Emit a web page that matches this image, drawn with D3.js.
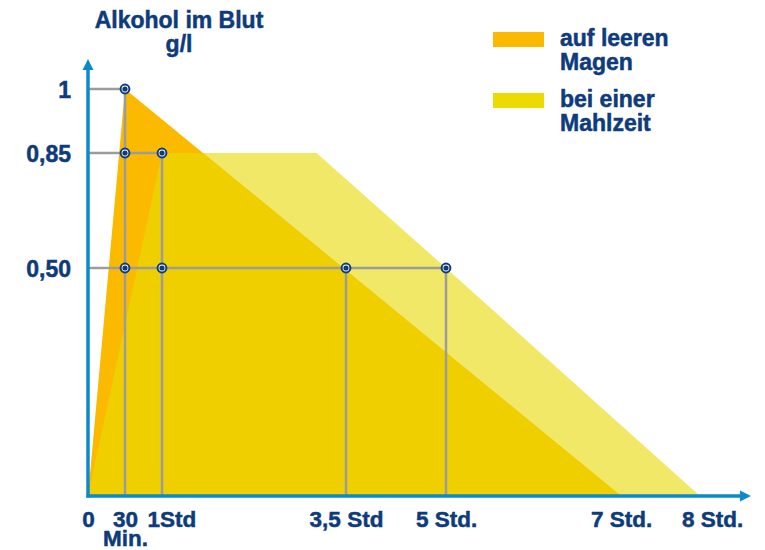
<!DOCTYPE html>
<html>
<head>
<meta charset="utf-8">
<script src="https://cdn.jsdelivr.net/npm/d3@7/dist/d3.min.js"></script>
<style>
  body { margin: 0; background: #fff; }
  text { font-family: "Liberation Sans", Arial, sans-serif; font-weight: bold; fill: #0d3b7b;
         stroke: #0d3b7b; stroke-width: 0.5px; }
</style>
</head>
<body>
<script>
// hours / g/l
var xTicks = [0, 0.5, 1, 3.5, 5, 7, 8]
var xTickLabels = ["0", "30", "1Std", "3,5 Std", "5 Std.", "7 Std.", "8 Std."]
var yTicks = [1, 0.85, 0.5]
var yTickLabels = ["1", "0,85", "0,50"]

// auf leeren Magen
var emptyHours = [0, 0.5, 7]
var emptyLevel = [0, 1, 0]
// bei einer Mahlzeit
var mealHours = [0, 1, 3.1, 5, 8]
var mealLevel = [0, 0.85, 0.85, 0.5, 0]

// marked points and their guide lines
var dotHours = [0.5, 0.5, 1, 0.5, 1, 3.5, 5]
var dotLevel = [1, 0.85, 0.85, 0.5, 0.5, 0.5, 0.5]
var hGuideLevel = [1, 0.85, 0.5]
var hGuideHours = [0.5, 1, 5]
var vGuideHours = [0.5, 1, 3.5, 5]
var vGuideLevel = [1, 0.85, 0.5, 0.5]

var legendLabels = [["auf leeren", "Magen"], ["bei einer", "Mahlzeit"]]
var legendColors = ["#fbba00", "#ebdb00"]

var width = 765, height = 550
var navy = "#0d3b7b", blue = "#0a8acb", grey = "#9c9c9c"

var svg = d3.select("body").append("svg")
    .attr("width", width)
    .attr("height", height)

// the hand drawn axes are not evenly spaced, so piecewise scales
var x = d3.scaleLinear()
    .domain(xTicks)
    .range([88, 125, 162, 346, 446, 621, 700])
var y = d3.scaleLinear()
    .domain([0, 0.5, 0.85, 1])
    .range([496, 268, 153, 89])

function pts(hours, level) {
  return hours.map(function(h, i) { return [x(h), y(level[i])] })
}
var area = d3.line().curve(d3.curveLinearClosed)

var defs = svg.append("defs")
defs.append("clipPath").attr("id", "emptyClip")
  .append("path").attr("d", area(pts(emptyHours, emptyLevel)))

// meal area (light), empty stomach area, then the overlap
svg.append("path")
    .attr("d", area(pts(mealHours, mealLevel)))
    .style("fill", "#f2e868")
svg.append("path")
    .attr("d", area(pts(emptyHours, emptyLevel)))
    .style("fill", "#fbba00")
svg.append("path")
    .attr("d", area(pts(mealHours, mealLevel)))
    .attr("clip-path", "url(#emptyClip)")
    .style("fill", "#efcf00")

// guide lines
var guides = svg.append("g").style("stroke", grey).style("stroke-width", 2.5)
hGuideLevel.forEach(function(v, i) {
  guides.append("line")
    .attr("x1", x(0)).attr("x2", x(hGuideHours[i]))
    .attr("y1", y(v)).attr("y2", y(v))
})
vGuideHours.forEach(function(h, i) {
  guides.append("line")
    .attr("x1", x(h)).attr("x2", x(h))
    .attr("y1", y(vGuideLevel[i])).attr("y2", y(0))
})

// axes with arrow heads
defs.append("marker")
    .attr("id", "arrow")
    .attr("viewBox", "0 0 10 10")
    .attr("refX", 2).attr("refY", 5)
    .attr("markerWidth", 3.2).attr("markerHeight", 3.2)
    .attr("orient", "auto")
  .append("path")
    .attr("d", "M0,0L10,5L0,10z")
    .style("fill", blue)

svg.append("line")
    .attr("x1", x(0)).attr("x2", x(0))
    .attr("y1", y(0) + 1.5).attr("y2", 68)
    .style("stroke", blue).style("stroke-width", 3.5)
    .attr("marker-end", "url(#arrow)")
svg.append("line")
    .attr("x1", x(0) - 1.5).attr("x2", 742)
    .attr("y1", y(0)).attr("y2", y(0))
    .style("stroke", blue).style("stroke-width", 3.5)
    .attr("marker-end", "url(#arrow)")

// tick labels
var xAxis = svg.append("g")
    .attr("transform", "translate(0," + y(0) + ")")
    .call(d3.axisBottom(x).tickValues(xTicks).tickSize(0)
      .tickFormat(function(d, i) { return xTickLabels[i] }))
xAxis.select(".domain").remove()
xAxis.selectAll("text")
    .attr("y", 31).attr("dy", 0)
    .style("font-size", "22.5px")
    .style("fill", navy)
    .attr("font-family", null)
xAxis.selectAll(".tick").filter(function(d) { return d == 1 })
  .select("text")
    .attr("text-anchor", "start")
    .attr("x", -15)
xAxis.selectAll(".tick").filter(function(d) { return d == 8 })
  .select("text")
    .attr("x", 12)
xAxis.selectAll(".tick").filter(function(d) { return d == 0.5 })
  .append("text")
    .attr("y", 50)
    .attr("text-anchor", "middle")
    .style("font-size", "22.5px")
    .text("Min.")

var yAxis = svg.append("g")
    .attr("transform", "translate(" + x(0) + ",0)")
    .call(d3.axisLeft(y).tickValues(yTicks).tickSize(0)
      .tickFormat(function(d, i) { return yTickLabels[i] }))
yAxis.select(".domain").remove()
yAxis.selectAll("text")
    .attr("x", -17).attr("dy", "0.36em")
    .style("font-size", "23px")
    .style("fill", navy)
    .attr("font-family", null)

// dots
var dots = svg.selectAll(".dot")
  .data(dotHours)
  .enter().append("g")
    .attr("class", "dot")
    .attr("transform", function(d, i) { return "translate(" + x(d) + "," + y(dotLevel[i]) + ")" })
dots.append("circle").attr("r", 4.4)
    .style("fill", "#fff").style("stroke", navy).style("stroke-width", 2)
dots.append("circle").attr("r", 2.6).style("fill", navy)

// title
var title = svg.append("text")
    .attr("text-anchor", "middle")
    .style("font-size", "23px")
title.append("tspan").attr("x", 179).attr("y", 28).text("Alkohol im Blut")
title.append("tspan").attr("x", 179).attr("y", 52).text("g/l")

// legend
var legend = svg.selectAll(".legend")
  .data(legendLabels)
  .enter().append("g")
    .attr("class", "legend")
    .attr("transform", function(d, i) { return "translate(493," + (32 + i * 61) + ")" })
legend.append("rect")
    .attr("width", 51).attr("height", 15)
    .style("fill", function(d, i) { return legendColors[i] })
legend.each(function(d) {
  var t = d3.select(this).append("text").style("font-size", "23px")
  d.forEach(function(line, j) {
    t.append("tspan").attr("x", 67).attr("y", 13.5 + j * 24).text(line)
  })
})
</script>
</body>
</html>
